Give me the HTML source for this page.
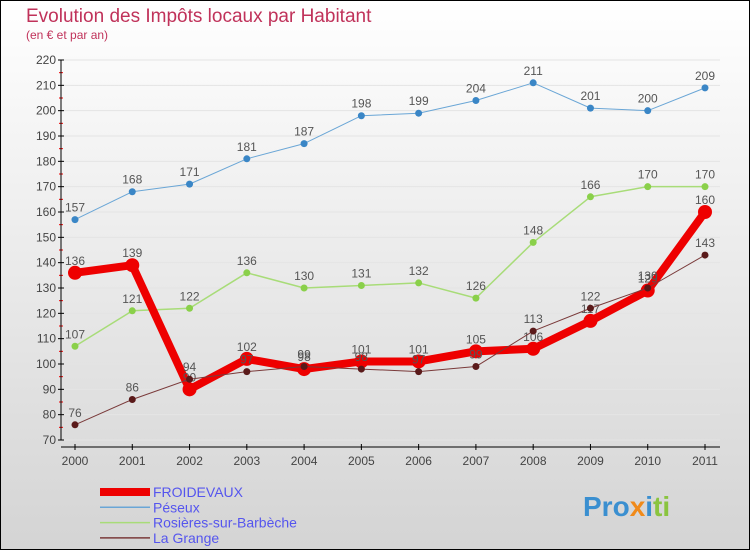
<!DOCTYPE html>
<html><head><meta charset="utf-8"><style>
body{margin:0}
#c{width:750px;height:550px;position:relative;font-family:"Liberation Sans",sans-serif}
</style></head><body>
<div id="c">
<svg id="s" width="750" height="550" xmlns="http://www.w3.org/2000/svg">
<defs><linearGradient id="bg" x1="0" y1="0" x2="0" y2="1"><stop offset="0" stop-color="#ffffff"/><stop offset="1" stop-color="#d4d4d4"/></linearGradient></defs>
<rect x="0.5" y="0.5" width="749" height="549" fill="url(#bg)" stroke="#000"/>
<text x="26" y="22" font-size="19" fill="#c0325a">Evolution des Impôts locaux par Habitant</text>
<text x="26" y="39" font-size="12" fill="#c0325a">(en € et par an)</text>
<g id="grid"></g><g id="axes"></g><g id="series"></g><g id="legend"></g>
<text x="583" y="516" font-size="28" font-weight="bold" fill="#3a8fd0">Pro<tspan fill="#f08a1a">x</tspan><tspan fill="#3a8fd0">i</tspan><tspan fill="#8ac43f">ti</tspan></text>
</svg></div>
<script>
const years=[2000,2001,2002,2003,2004,2005,2006,2007,2008,2009,2010,2011];
const yTicks=[70,80,90,100,110,120,130,140,150,160,170,180,190,200,210,220];
const peseux=[157,168,171,181,187,198,199,204,211,201,200,209];
const rosieres=[107,121,122,136,130,131,132,126,148,166,170,170];
const lagrange=[76,86,94,97,99,98,97,99,113,122,130,143];
const froidevaux=[136,139,90,102,98,101,101,105,106,117,129,160];
const NS="http://www.w3.org/2000/svg";
const X=i=>75+i*(630/11);
const Y=v=>440-(v-70)*(380/150);
function mk(tag,attrs,parent){const e=document.createElementNS(NS,tag);for(const k in attrs)e.setAttribute(k,attrs[k]);document.getElementById(parent).appendChild(e);return e;}
yTicks.forEach(t=>{
 let g=mk('line',{x1:61,x2:720,y1:Y(t),y2:Y(t),stroke:'#e4e4e4'},'grid');
 
 
 let tk=mk('line',{x1:58,x2:64,y1:Y(t),y2:Y(t),stroke:'#000'},'axes');
 
 
 if(t<220){let m=mk('line',{x1:59,x2:63,y1:Y(t+5),y2:Y(t+5),stroke:'#e00'},'axes');
 
 }
 let l=mk('text',{x:56,y:Y(t)+4,'font-size':12,fill:'#444','text-anchor':'end'},'axes');l.textContent=t;
 
 
});
let ya=mk('line',{x1:61,x2:61,y1:Y(220),y2:Y(70),stroke:'#000'},'axes');


let xa=mk('line',{x1:61,x2:720,y1:447,y2:447,stroke:'#000'},'axes');


years.forEach((y,i)=>{
 let t=mk('line',{x1:X(i),x2:X(i),y1:444,y2:450,stroke:'#000'},'axes');
 
 
 let l=mk('text',{x:X(i),y:465,'font-size':12,fill:'#444','text-anchor':'middle'},'axes');l.textContent=y;
 
 
});
function series(vals,color,w,r,dot,name){
 let p=mk('polyline',{points:vals.map((v,i)=>X(i)+','+Y(v)).join(' '),fill:'none',stroke:color,'stroke-width':w,'stroke-linejoin':'round'},'series');
 
 
 vals.forEach((v,i)=>{
  let c=mk('circle',{cx:X(i),cy:Y(v),r:r,fill:dot},'series');
  
  
  let l=mk('text',{x:X(i),y:Y(v)-8,'font-size':12,fill:'#555','text-anchor':'middle'},'series');l.textContent=v;
  
  
 });
}
series(peseux,'#6aa6d6',1,3.5,'#3a86c6','peseux');
series(rosieres,'#a8dc78',1.5,3.5,'#8ad04a','rosieres');
series(froidevaux,'#ee0000',8,7,'#ee0000','froidevaux');
series(lagrange,'#7a3a3a',1,3.5,'#5a1a1a','la-grange');
const legNames=['FROIDEVAUX','Péseux','Rosières-sur-Barbèche','La Grange'];
const legCol=['#ee0000','#6aa6d6','#a8dc78','#7a3a3a'];
const legW=[8,1.5,1.5,1.5];
legNames.forEach((n,i)=>{
 const y=492+i*15.3;
 let l=mk('line',{x1:100,x2:150,y1:y,y2:y,stroke:legCol[i],'stroke-width':legW[i]},'legend');
 
 
 let t=mk('text',{x:153,y:y+5,'font-size':14,fill:'#5555ee'},'legend');t.textContent=n;
 
 
});
</script>
</body></html>
